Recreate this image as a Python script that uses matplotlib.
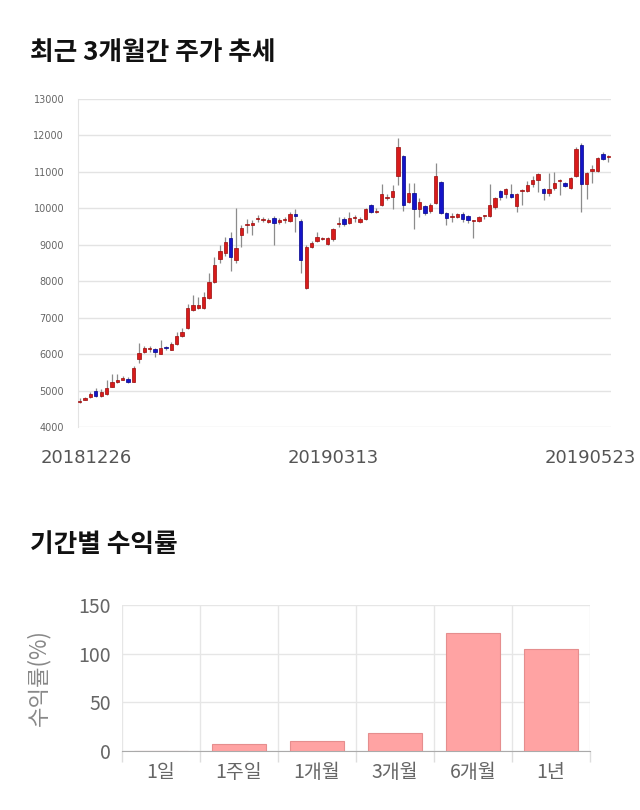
import matplotlib
matplotlib.use("Agg")
import matplotlib.pyplot as plt
from matplotlib.patches import Rectangle
from matplotlib.transforms import offset_copy

plt.rcParams['font.family'] = ['Noto Sans CJK KR', 'DejaVu Sans']

# ---- candle data (KRW) ----
opens = [4690, 4740, 4820, 5000, 4850, 4900, 5100, 5230, 5290, 5320,
         5240, 5870, 6060, 6130, 6140, 6000, 6200, 6110, 6280, 6500,
         6720, 7210, 7270, 7270, 7540, 7980, 8610, 8770, 9190, 8580,
         9270, 9540, 9540, 9710, 9680, 9625, 9730, 9625, 9680, 9650,
         9850, 9650, 7810, 8940, 9110, 9160, 9020, 9160, 9570, 9710,
         9600, 9730, 9630, 9710, 10090, 9900, 10090, 10280, 10310, 10890,
         11440, 10180, 10420, 9980, 10060, 9930, 10150, 10720, 9870, 9760,
         9760, 9840, 9790, 9650, 9650, 9790, 9790, 10040, 10480, 10390,
         10390, 10060, 10480, 10480, 10670, 10780, 10530, 10420, 10560, 10750,
         10690, 10560, 10890, 11740, 10670, 11030, 11030, 11490, 11410]
closes = [4700, 4790, 4900, 4850, 4970, 5070, 5240, 5290, 5340, 5230,
          5620, 6030, 6170, 6150, 6060, 6170, 6170, 6280, 6500, 6610,
          7270, 7350, 7350, 7570, 7980, 8440, 8830, 9080, 8660, 8910,
          9450, 9570, 9600, 9730, 9690, 9680, 9590, 9680, 9690, 9850,
          9790, 8580, 8940, 9060, 9220, 9170, 9190, 9440, 9580, 9570,
          9730, 9740, 9710, 9980, 9900, 9930, 10400, 10290, 10480, 11680,
          10090, 10420, 9980, 10170, 9870, 10090, 10890, 9870, 9730, 9770,
          9840, 9710, 9680, 9660, 9770, 9800, 10090, 10280, 10310, 10530,
          10310, 10390, 10490, 10640, 10780, 10940, 10420, 10530, 10690, 10760,
          10610, 10830, 11630, 10670, 10970, 11080, 11380, 11350, 11420]
highs = [4790, 4830, 4970, 5070, 5040, 5290, 5460, 5460, 5400, 5380,
         5680, 6300, 6210, 6220, 6170, 6390, 6230, 6330, 6620, 6720,
         7380, 7620, 7570, 7710, 8220, 8660, 8990, 9220, 9350, 10000,
         9540, 9710, 9680, 9820, 9760, 9740, 9790, 9740, 9760, 9900,
         9980, 9700, 9000, 9100, 9360, 9220, 9220, 9470, 9770, 9760,
         9900, 9820, 9760, 10000, 10120, 10020, 10660, 10380, 10640, 11930,
         11470, 10700, 10700, 10280, 10100, 10150, 11240, 10750, 9900, 9870,
         9870, 9900, 9830, 9680, 9800, 9830, 10660, 10310, 10500, 10560,
         10660, 10420, 10520, 10750, 10880, 10980, 10560, 10960, 11000, 10800,
         10720, 10860, 11680, 11800, 11000, 11190, 11410, 11550, 11460]
lows = [4660, 4730, 4800, 4830, 4830, 4880, 5090, 5220, 5280, 5220,
        5230, 5750, 6030, 6060, 5930, 5990, 6120, 6100, 6250, 6470,
        6700, 7190, 7240, 7250, 7520, 7960, 8500, 8700, 8280, 8500,
        8950, 9330, 9270, 9630, 9620, 9600, 9000, 9570, 9600, 9620,
        9350, 8220, 7780, 8900, 9080, 9120, 9000, 9100, 9490, 9520,
        9580, 9620, 9600, 9690, 9870, 9880, 10060, 10230, 9990, 10640,
        9930, 10150, 9430, 9770, 9820, 9870, 10120, 9850, 9540, 9630,
        9740, 9630, 9600, 9190, 9620, 9700, 9770, 9970, 10230, 10280,
        10280, 9910, 10090, 10440, 10580, 10460, 10230, 10340, 10500, 10370,
        10580, 10530, 10860, 9900, 10260, 10700, 11000, 11330, 11270]
date_ticks = ['20181226', '20190313', '20190523']
date_tick_idx = [0, 47, 98]
price_ticks = [4000, 5000, 6000, 7000, 8000, 9000, 10000, 11000, 12000, 13000]

# ---- period returns ----
periods = ['1일', '1주일', '1개월', '3개월', '6개월', '1년']
returns = [0.0, 6.8, 10.3, 18.1, 121.6, 105.1]
ret_ticks = [0, 50, 100, 150]

W, H = 640, 810
fig = plt.figure(figsize=(W / 100, H / 100), dpi=100)

def fx(px):
    return px / W

def fy(py):
    return 1 - py / H

fig.text(fx(30), fy(52), '최근 3개월간 주가 추세', fontsize=18.5, fontweight='bold',
         color='#111111', va='center', ha='left')
fig.text(fx(30), fy(544), '기간별 수익률', fontsize=18.5, fontweight='bold',
         color='#111111', va='center', ha='left')

# ---- candlestick axes ----
ax = fig.add_axes([fx(78), fy(427), fx(611) - fx(78), fy(99) - fy(427)])
ax.set_xlim(-0.3, 98.5)
ax.set_ylim(4000, 13000)
up_face, up_edge = '#d81b1b', '#9a0a0a'
dn_face, dn_edge = '#1414c8', '#00008a'
bw = 0.62
for i, (o, h, l, c) in enumerate(zip(opens, highs, lows, closes)):
    ax.vlines(i, l, h, color='#8c8c8c', linewidth=0.9, zorder=2)
    up = c >= o
    bottom = min(o, c)
    height = max(abs(c - o), 25)
    ax.add_patch(Rectangle((i - bw / 2, bottom), bw, height,
                           facecolor=up_face if up else dn_face,
                           edgecolor=up_edge if up else dn_edge,
                           linewidth=0.5, zorder=3))
ax.set_yticks(price_ticks)
ax.set_yticklabels([str(t) for t in price_ticks], fontsize=7, color='#666666',
                   family=['DejaVu Sans'])
ax.yaxis.grid(True, color='#e3e3e3', linewidth=1)
ax.set_axisbelow(True)
ax.tick_params(axis='y', length=0, pad=10)
ax.set_xticks(date_tick_idx)
ax.set_xticklabels(date_ticks, fontsize=13, color='#555555', family=['DejaVu Sans'])
ax.tick_params(axis='x', length=0, pad=16)
labs = ax.get_xticklabels()
labs[0].set_transform(offset_copy(labs[0].get_transform(), fig=fig, x=7, y=0, units='dots'))
labs[2].set_transform(offset_copy(labs[2].get_transform(), fig=fig, x=-18, y=0, units='dots'))
for s in ['top', 'right', 'bottom']:
    ax.spines[s].set_visible(False)
ax.spines['left'].set_color('#e3e3e3')

# ---- returns bar axes ----
bx = fig.add_axes([fx(122), fy(751), fx(590) - fx(122), fy(605) - fy(751)])
xs = list(range(len(periods)))
bx.bar(xs, returns, width=0.7, color='#ffa3a3', edgecolor='#e58e8e', linewidth=0.8, zorder=3)
bx.set_xlim(-0.5, len(periods) - 0.5)
bx.set_ylim(0, 150)
bx.set_yticks(ret_ticks)
bx.set_yticklabels([str(t) for t in ret_ticks], fontsize=14, color='#666666')
bx.tick_params(axis='y', length=0, pad=8)
bx.set_xticks(xs)
bx.set_xticklabels(periods, fontsize=14, color='#666666')
bx.tick_params(axis='x', which='major', length=0, pad=8)
bx.set_xticks([x - 0.5 for x in xs] + [len(periods) - 0.5], minor=True)
bx.tick_params(axis='x', which='minor', length=8, color='#dddddd', width=1)
bx.yaxis.grid(True, color='#e6e6e6', linewidth=1)
bx.xaxis.grid(True, which='minor', color='#e6e6e6', linewidth=1)
bx.set_axisbelow(True)
for s in ['top', 'right', 'left']:
    bx.spines[s].set_visible(False)
bx.spines['bottom'].set_color('#aaaaaa')
bx.set_ylabel('수익률(%)', fontsize=16, color='#888888', labelpad=20)

fig.savefig('out.png', dpi=100)
